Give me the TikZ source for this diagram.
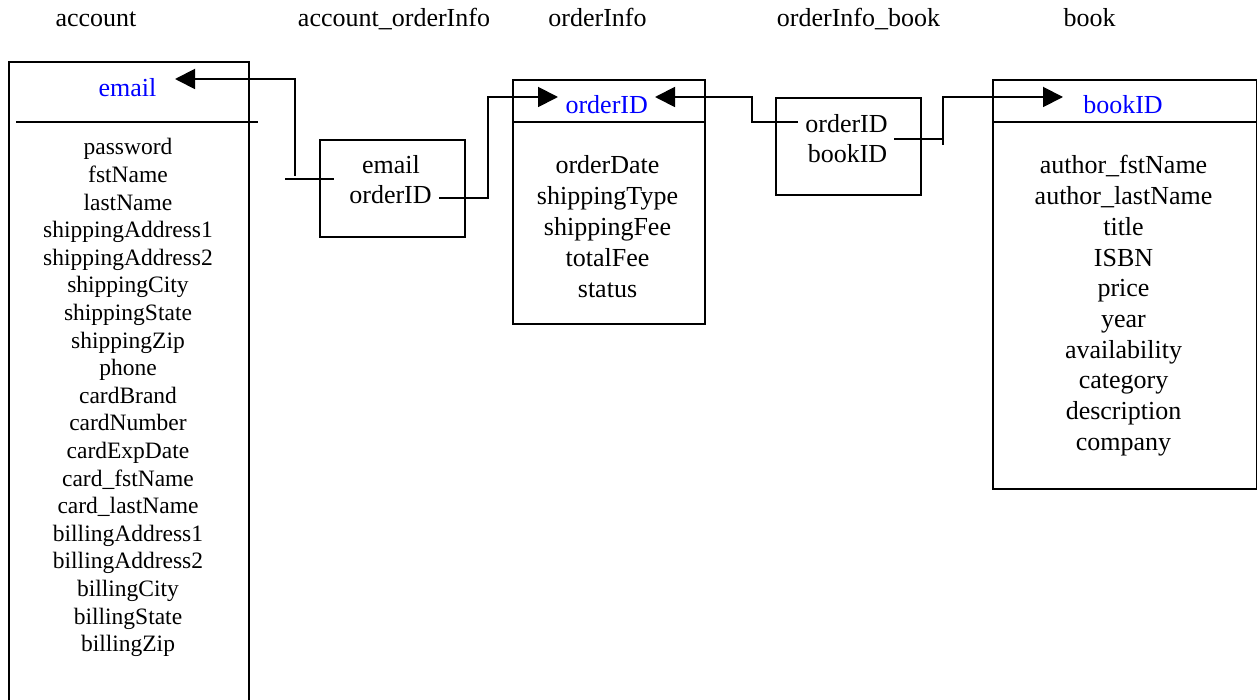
\documentclass[tikz,border=0pt]{standalone}
\usepackage{fontspec}
\setmainfont{Liberation Serif}
\usetikzlibrary{arrows.meta}
\definecolor{keyblue}{RGB}{0,0,255}
\begin{document}
\begin{tikzpicture}[x=1pt,y=-1pt,
  frame/.style={draw, line width=1.9pt, inner sep=0pt, anchor=north west},
  rule/.style={line width=1.9pt},
  link/.style={line width=1.9pt},
  tip/.style={-{Triangle[length=20pt,width=20pt]}},
  big/.style={font=\fontsize{26}{30}\selectfont, inner sep=0pt, anchor=base},
  small/.style={font=\fontsize{23.5}{27.6}\selectfont, inner sep=0pt, anchor=base},
  key/.style={big, text=keyblue}]
\useasboundingbox[fill=white] (0,0) rectangle (1257,700);

% table titles
\node[big] (tAccount) at (96,26.5) {account};
\node[big] (tAccOrd)  at (394,26.5) {account\_orderInfo};
\node[big] (tOrder)   at (597.5,26.5) {orderInfo};
\node[big] (tOrdBook) at (858.5,26.5) {orderInfo\_book};
\node[big] (tBook)    at (1089.5,26.5) {book};

% table frames
\node[frame, minimum width=240pt, minimum height=680pt] (account) at (8,61) {};
\node[frame, minimum width=145pt, minimum height=97pt]  (accord)  at (319,139) {};
\node[frame, minimum width=192pt, minimum height=244pt] (order)   at (512,79) {};
\node[frame, minimum width=145pt, minimum height=97pt]  (ordbook) at (775,97) {};
\node[frame, minimum width=264pt, minimum height=409pt] (book)    at (992,79) {};

% key separators
\draw[rule] (16,122) -- (258,122);
\draw[rule] (order.west |- 0,122) -- (order.east |- 0,122);
\draw[rule] (book.west |- 0,122) -- (1257,122);

% primary keys
\node[key] (accKey)  at (127.5,96.5) {email};
\node[key] (ordKey)  at (606.7,114) {orderID};
\node[key] (bookKey) at (1123,114) {bookID};

% account attributes
\foreach \t [count=\i from 0] in {password, fstName, lastName, shippingAddress1,
  shippingAddress2, shippingCity, shippingState, shippingZip, phone, cardBrand,
  cardNumber, cardExpDate, card\_fstName, card\_lastName, billingAddress1,
  billingAddress2, billingCity, billingState, billingZip}
  \node[small] (acc\i) at (128,{155+27.59*\i}) {\t};

% orderInfo attributes
\foreach \t [count=\i from 0] in {orderDate, shippingType, shippingFee, totalFee, status}
  \node[big] (ord\i) at (607.5,{174+31*\i}) {\t};

% book attributes
\foreach \t [count=\i from 0] in {author\_fstName, author\_lastName, title, ISBN,
  price, year, availability, category, description, company}
  \node[big] (bk\i) at (1123.5,{174+30.67*\i}) {\t};

% link tables
\node[big] (aoEmail) at (391,174) {email};
\node[big] (aoOrder) at (390.5,204) {orderID};
\node[big] (obOrder) at (846.5,133) {orderID};
\node[big] (obBook)  at (847.5,162.7) {bookID};

% connector end points
\coordinate (accIn)  at (175,79);
\coordinate (aoUp)   at (295,176);
\coordinate (aoStL)  at (285,179);
\coordinate (aoStR)  at (334,179);
\coordinate (aoOut)  at (439,198);
\coordinate (j2)     at (488,198);
\coordinate (ordIn)  at (558,97);
\coordinate (obIn)   at (798,122);
\coordinate (j3)     at (752,97);
\coordinate (ordBack) at (655,97);
\coordinate (obOut)  at (894,139);
\coordinate (j4)     at (943,139);
\coordinate (j4low)  at (943,145);
\coordinate (bookIn) at (1063,97);

% foreign key references
\draw[link, tip] (aoUp) |- (accIn);
\draw[link] (aoStL) -- (aoStR);
\draw[link, tip] (aoOut) -- (j2) |- (ordIn);
\draw[link, tip] (obIn) -| (j3) -- (ordBack);
\draw[link] (obOut) -- (j4);
\draw[link, tip] (j4low) |- (bookIn);
\end{tikzpicture}
\end{document}
